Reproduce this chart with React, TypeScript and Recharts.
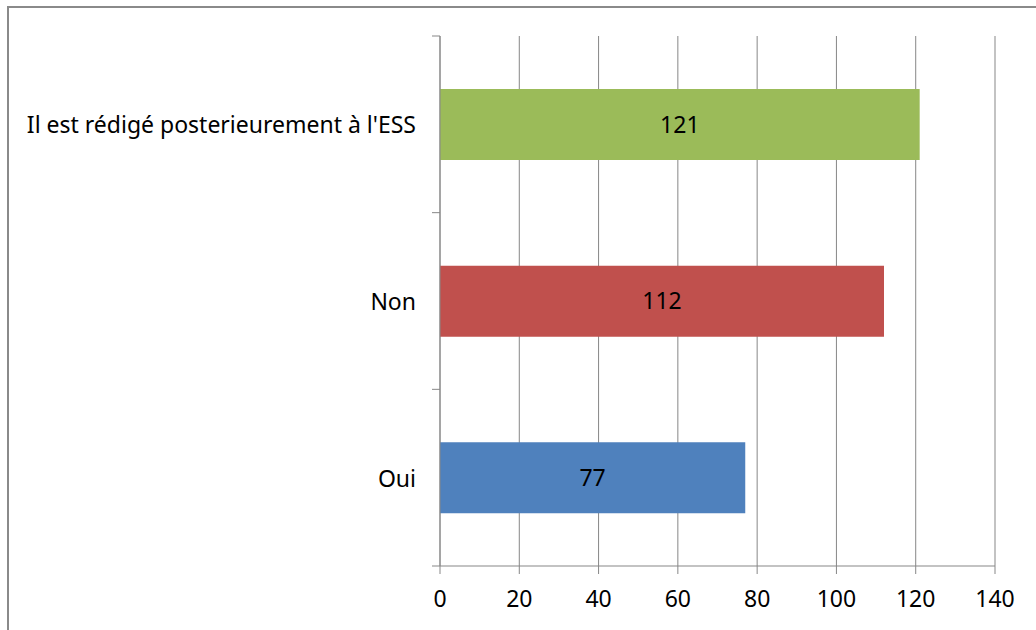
import { BarChart, Bar, XAxis, YAxis, CartesianGrid, Cell, LabelList } from "recharts";

const categories = ["Il est rédigé posterieurement à l'ESS", "Non", "Oui"];
const values = [121, 112, 77];
const barColors = ["#9BBB59", "#C0504D", "#4F81BD"];
const xTicks = [0, 20, 40, 60, 80, 100, 120, 140];

const W = 1036;
const H = 630;
const TOP = 36;
const XAXIS_H = 64;
const YAXIS_W = 440;
const FONT = "'Noto Sans', sans-serif";
const FONT_SIZE = 23;
const AXIS_COLOR = "#878787";

const data = categories.map((name, i) => ({ name, value: values[i] }));

function CategoryTick(props: any) {
  const { x, y, payload, index } = props;
  const band = (H - TOP - XAXIS_H) / categories.length;
  const axisX = YAXIS_W;
  return (
    <g>
      <text
        x={x}
        y={y}
        textAnchor="end"
        dominantBaseline="central"
        fill="#000"
        fontSize={FONT_SIZE}
        fontFamily={FONT}
      >
        {payload.value}
      </text>
      <line x1={axisX - 8} x2={axisX} y1={y - band / 2} y2={y - band / 2} stroke={AXIS_COLOR} />
      {index === categories.length - 1 && (
        <line x1={axisX - 8} x2={axisX} y1={y + band / 2} y2={y + band / 2} stroke={AXIS_COLOR} />
      )}
    </g>
  );
}

export default function App() {
  return (
    <div style={{ position: "absolute", left: 0, top: 0, width: W, height: H, overflow: "hidden", background: "#fff" }}>
      <div
        style={{
          position: "absolute",
          left: 7,
          top: 6,
          width: 1200,
          height: 800,
          border: "2px solid #8a8a8a",
          boxSizing: "border-box",
        }}
      />
      <div style={{ position: "absolute", left: 0, top: 0 }}>
        <BarChart
          width={W}
          height={H}
          data={data}
          layout="vertical"
          margin={{ top: TOP, right: 41, left: 0, bottom: 0 }}
          barCategoryGap="30%"
        >
          <CartesianGrid horizontal={false} stroke={AXIS_COLOR} />
          <XAxis
            type="number"
            domain={[0, 140]}
            ticks={xTicks}
            height={XAXIS_H}
            tickSize={8}
            tickMargin={17}
            stroke={AXIS_COLOR}
            tick={{ fill: "#000", fontSize: FONT_SIZE, fontFamily: FONT }}
          />
          <YAxis
            type="category"
            dataKey="name"
            width={YAXIS_W}
            tickLine={false}
            tickSize={8}
            tickMargin={16}
            stroke={AXIS_COLOR}
            tick={<CategoryTick />}
            interval={0}
          />
          <Bar dataKey="value" isAnimationActive={false}>
            {data.map((d, i) => (
              <Cell key={d.name} fill={barColors[i]} />
            ))}
            <LabelList dataKey="value" position="center" fill="#000" fontSize={FONT_SIZE} fontFamily={FONT} />
          </Bar>
        </BarChart>
      </div>
    </div>
  );
}
